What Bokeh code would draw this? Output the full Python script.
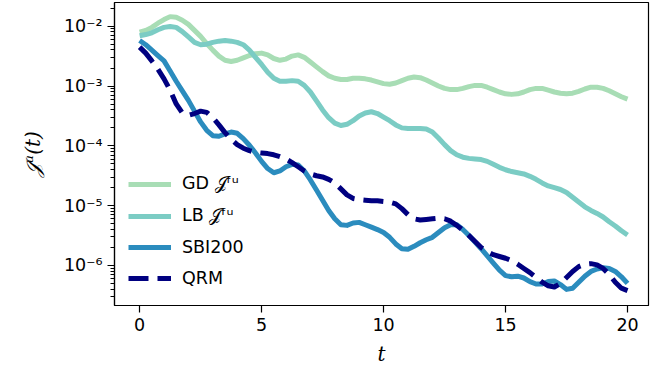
from bokeh.plotting import figure
from bokeh.models import Range1d, FixedTicker, Legend, LegendItem
from bokeh.embed import file_html
from bokeh.resources import INLINE

# time grid
t = [0.0, 0.25, 0.5, 0.75, 1.0, 1.25, 1.5, 1.75, 2.0, 2.25,
     2.5, 2.75, 3.0, 3.25, 3.5, 3.75, 4.0, 4.25, 4.5, 4.75,
     5.0, 5.25, 5.5, 5.75, 6.0, 6.25, 6.5, 6.75, 7.0, 7.25,
     7.5, 7.75, 8.0, 8.25, 8.5, 8.75, 9.0, 9.25, 9.5, 9.75,
     10.0, 10.25, 10.5, 10.75, 11.0, 11.25, 11.5, 11.75, 12.0, 12.25,
     12.5, 12.75, 13.0, 13.25, 13.5, 13.75, 14.0, 14.25, 14.5, 14.75,
     15.0, 15.25, 15.5, 15.75, 16.0, 16.25, 16.5, 16.75, 17.0, 17.25,
     17.5, 17.75, 18.0, 18.25, 18.5, 18.75, 19.0, 19.25, 19.5, 19.75, 20.0]

# series values, read in decades (log10 of the value)
gd_log10 = [-2.10, -2.07, -2.02, -1.95, -1.89, -1.84, -1.85, -1.90, -1.97, -2.07,
            -2.17, -2.29, -2.40, -2.50, -2.57, -2.59, -2.57, -2.53, -2.49, -2.46,
            -2.45, -2.48, -2.54, -2.57, -2.55, -2.50, -2.48, -2.52, -2.60, -2.68,
            -2.76, -2.83, -2.87, -2.89, -2.89, -2.87, -2.87, -2.88, -2.90, -2.93,
            -2.96, -2.97, -2.95, -2.91, -2.87, -2.85, -2.86, -2.90, -2.95, -3.00,
            -3.04, -3.06, -3.06, -3.04, -3.01, -2.99, -2.99, -3.02, -3.06, -3.10,
            -3.13, -3.14, -3.13, -3.10, -3.06, -3.04, -3.04, -3.07, -3.10, -3.12,
            -3.13, -3.12, -3.09, -3.05, -3.02, -3.02, -3.04, -3.08, -3.13, -3.18, -3.22]
lb_log10 = [-2.16, -2.14, -2.11, -2.06, -2.02, -2.005, -2.02, -2.09, -2.18, -2.27,
            -2.31, -2.30, -2.27, -2.25, -2.24, -2.25, -2.27, -2.31, -2.40, -2.52,
            -2.64, -2.77, -2.87, -2.92, -2.92, -2.91, -2.92, -2.99, -3.10, -3.25,
            -3.40, -3.53, -3.62, -3.66, -3.64, -3.58, -3.50, -3.45, -3.43, -3.46,
            -3.52, -3.58, -3.65, -3.70, -3.71, -3.71, -3.71, -3.72, -3.77, -3.87,
            -3.98, -4.08, -4.15, -4.19, -4.21, -4.22, -4.23, -4.26, -4.31, -4.36,
            -4.40, -4.43, -4.45, -4.47, -4.51, -4.56, -4.62, -4.67, -4.70, -4.73,
            -4.78, -4.86, -4.94, -5.02, -5.08, -5.13, -5.19, -5.27, -5.34, -5.42, -5.49]
sbi_log10 = [-2.24, -2.31, -2.40, -2.49, -2.58, -2.75, -2.92, -3.08, -3.24, -3.42,
             -3.60, -3.74, -3.83, -3.84, -3.80, -3.77, -3.79, -3.88, -3.99, -4.12,
             -4.26, -4.38, -4.45, -4.42, -4.35, -4.31, -4.32, -4.42, -4.57, -4.74,
             -4.91, -5.08, -5.22, -5.32, -5.33, -5.29, -5.28, -5.32, -5.36, -5.40,
             -5.45, -5.53, -5.64, -5.72, -5.73, -5.68, -5.62, -5.57, -5.53, -5.45,
             -5.37, -5.32, -5.32, -5.40, -5.50, -5.61, -5.72, -5.84, -5.96, -6.08,
             -6.17, -6.19, -6.18, -6.21, -6.27, -6.31, -6.31, -6.27, -6.26, -6.32,
             -6.40, -6.38, -6.28, -6.18, -6.10, -6.06, -6.04, -6.05, -6.10, -6.19, -6.30]
qrm_log10 = [-2.35, -2.45, -2.58, -2.72, -2.88, -3.07, -3.30, -3.45, -3.49, -3.46,
             -3.42, -3.44, -3.53, -3.65, -3.78, -3.89, -3.98, -4.04, -4.08, -4.11,
             -4.12, -4.13, -4.15, -4.18, -4.22, -4.28, -4.35, -4.42, -4.47, -4.50,
             -4.52, -4.56, -4.62, -4.72, -4.82, -4.88, -4.90, -4.91, -4.92, -4.92,
             -4.93, -4.94, -4.97, -5.05, -5.15, -5.22, -5.24, -5.23, -5.22, -5.21,
             -5.22, -5.26, -5.33, -5.41, -5.50, -5.60, -5.70, -5.77, -5.82, -5.85,
             -5.88, -5.92, -5.98, -6.05, -6.12, -6.20, -6.28, -6.34, -6.36, -6.30,
             -6.20, -6.10, -6.02, -5.98, -5.97, -5.99, -6.05, -6.15, -6.28, -6.38, -6.42]

labels = ["GD 𝒥ᶠᵘ", "LB 𝒥ᶠᵘ", "SBI200", "QRM"]
colors = ["#a8ddb5", "#7bccc4", "#2b8cbe", "#000080"]

x_ticks = [0, 5, 10, 15, 20]
y_ticks = [1e-6, 1e-5, 1e-4, 1e-3, 1e-2]
y_tick_labels = ["10⁻⁶", "10⁻⁵", "10⁻⁴", "10⁻³", "10⁻²"]

gd = [10 ** v for v in gd_log10]
lb = [10 ** v for v in lb_log10]
sbi = [10 ** v for v in sbi_log10]
qrm = [10 ** v for v in qrm_log10]

p = figure(width=661, height=379, y_axis_type="log",
           x_range=Range1d(-1.03, 20.86), y_range=Range1d(2.14e-7, 2.49e-2),
           output_backend="svg", toolbar_location=None,
           min_border_left=114, min_border_right=13, min_border_top=2,
           min_border_bottom=74)

p.xgrid.visible = False
p.ygrid.visible = False
p.outline_line_color = "black"
p.outline_line_width = 1.2
p.background_fill_color = "white"
p.border_fill_color = "white"

r_gd = p.line(t, gd, line_color=colors[0], line_width=5, line_join="round")
r_lb = p.line(t, lb, line_color=colors[1], line_width=5, line_join="round")
r_sbi = p.line(t, sbi, line_color=colors[2], line_width=5, line_join="round")
r_qrm = p.line(t, qrm, line_color=colors[3], line_width=5, line_join="round",
               line_dash="20 9")

minor = []
for e in range(-7, -1):
    for m in range(2, 10):
        v = m * 10.0 ** e
        if 2.14e-7 <= v <= 2.49e-2:
            minor.append(v)

p.xaxis.ticker = FixedTicker(ticks=x_ticks, minor_ticks=[])
p.yaxis.ticker = FixedTicker(ticks=y_ticks, minor_ticks=minor)
p.yaxis.major_label_overrides = {k: s for k, s in zip(y_ticks, y_tick_labels)}

for ax in (p.xaxis[0], p.yaxis[0]):
    ax.axis_line_color = "black"
    ax.axis_line_width = 1.2
    ax.major_tick_line_color = "black"
    ax.major_tick_line_width = 1.2
    ax.minor_tick_line_color = "black"
    ax.minor_tick_line_width = 1.0
    ax.major_tick_in = 0
    ax.major_tick_out = 7
    ax.minor_tick_in = 0
    ax.minor_tick_out = 4
    ax.major_label_text_font = "DejaVu Sans"
    ax.major_label_text_font_size = "17.5px"
    ax.major_label_text_color = "black"
    ax.major_label_standoff = 5
    ax.axis_label_text_color = "black"
    ax.axis_label_text_font = "DejaVu Serif"
    ax.axis_label_text_font_style = "italic"
    ax.axis_label_text_font_size = "20px"

p.xaxis.axis_label = "t"
p.xaxis.axis_label_standoff = 8
p.yaxis.axis_label = "𝒥ᵘ(t)"
p.yaxis.axis_label_standoff = 16

legend = Legend(items=[
    LegendItem(label=labels[0], renderers=[r_gd]),
    LegendItem(label=labels[1], renderers=[r_lb]),
    LegendItem(label=labels[2], renderers=[r_sbi]),
    LegendItem(label=labels[3], renderers=[r_qrm]),
], location=(14, 17))
legend.background_fill_alpha = 0
legend.border_line_alpha = 0
legend.padding = 0
legend.margin = 0
legend.spacing = 11
legend.glyph_width = 43
legend.glyph_height = 20
legend.label_height = 20
legend.label_standoff = 11
legend.label_text_font = "DejaVu Sans"
legend.label_text_font_size = "17.5px"
legend.label_text_color = "black"
p.add_layout(legend)

open("out.html", "w").write(file_html(p, INLINE))
